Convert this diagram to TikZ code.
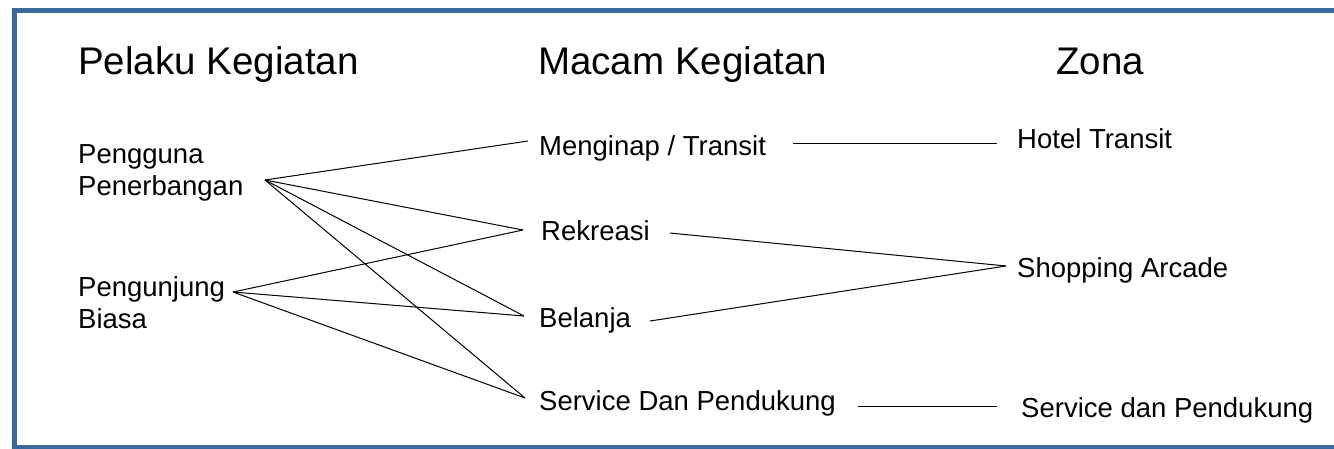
\documentclass[tikz,border=0pt]{standalone}
\usepackage{fontspec}
\setmainfont{Liberation Sans}
\definecolor{frameblue}{RGB}{58,106,157}
\begin{document}
\begin{tikzpicture}[x=1pt,y=-1pt,
  head/.style={anchor=base west,inner sep=0pt,font=\fontsize{38.5}{46}\selectfont},
  lbl/.style={anchor=base west,inner sep=0pt,font=\fontsize{27.5}{32}\selectfont,align=left},
  link/.style={draw=black,line width=1pt}]
\useasboundingbox (0,0) rectangle (1334,448);
\clip (0,0) rectangle (1334,448);
\draw[frameblue,line width=5pt] (14,10.8) rectangle (1345,447.5);
% headings
\node[head] (h1) at (78,74) {Pelaku Kegiatan};
\node[head] (h2) at (538,74) {Macam Kegiatan};
\node[head] (h3) at (1056,74) {Zona};
% labels (base anchor = last line)
\node[lbl] (pp) at (78,195) {Pengguna\\Penerbangan};
\node[lbl] (pb) at (78,328) {Pengunjung\\Biasa};
\node[lbl] (mi) at (539,155) {Menginap / Transit};
\node[lbl] (rk) at (541,240) {Rekreasi};
\node[lbl] (bl) at (539,327) {Belanja};
\node[lbl] (sd) at (539,410) {Service Dan Pendukung};
\node[lbl] (ht) at (1017,148) {Hotel Transit};
\node[lbl] (sa) at (1017,277) {Shopping Arcade};
\node[lbl] (sp) at (1021,417) {Service dan Pendukung};
% connector ends
\coordinate (pp-o) at (265,180);
\coordinate (pb-o) at (233,292);
\coordinate (mi-i) at (528,141);
\coordinate (rk-i) at (523,230);
\coordinate (bl-i) at (524,316);
\coordinate (sd-i) at (525,398);
\coordinate (mi-o) at (793,143);
\coordinate (rk-o) at (670,233);
\coordinate (bl-o) at (650,321);
\coordinate (sd-o) at (858,406);
\coordinate (ht-i) at (997,143);
\coordinate (sa-i) at (1006,266);
\coordinate (sp-i) at (997,406);
% connectors
\draw[link] (pp-o) -- (mi-i);
\draw[link] (pp-o) -- (rk-i);
\draw[link] (pp-o) -- (bl-i);
\draw[link] (pp-o) -- (sd-i);
\draw[link] (pb-o) -- (rk-i);
\draw[link] (pb-o) -- (bl-i);
\draw[link] (pb-o) -- (sd-i);
\draw[link] (mi-o) -- (ht-i);
\draw[link] (rk-o) -- (sa-i);
\draw[link] (bl-o) -- (sa-i);
\draw[link] (sd-o) -- (sp-i);
\end{tikzpicture}
\end{document}
